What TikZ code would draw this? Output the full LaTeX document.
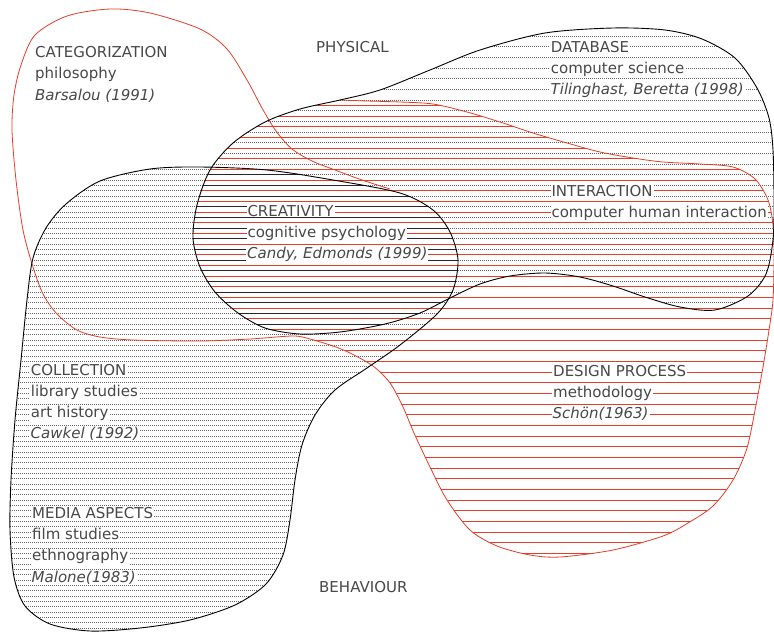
\documentclass[tikz,border=0pt]{standalone}
\usepackage{fontspec}
\setmainfont{DejaVu Sans}
\definecolor{vred}{RGB}{228,62,42}
\definecolor{ink}{RGB}{72,72,72}
\tikzset{
  lbl/.style={anchor=base west, fill=white, inner xsep=1pt, inner ysep=0.6pt,
              text=ink, font=\fontsize{15}{18}\selectfont},
  outline/.style={draw=black, line width=0.9pt},
  redoutline/.style={draw=vred, line width=0.8pt},
  dothatch/.style={black!60, line width=0.5pt, dash pattern=on 0.7pt off 1.3pt},
  redhatch/.style={vred, line width=0.6pt},
  solidhatch/.style={black!85, line width=0.6pt},
}
% blob outlines (pixel units, y pointing down)
\def\dbpath{plot[smooth cycle] coordinates {(193,238) (197,205) (210,170) (233,143) (265,122) (300,109) (340,100) (380,90) (430,70) (480,50) (545,33) (613,28) (665,30) (702,39) (735,58) (757,88) (769,118) (773,150) (774,200) (773,240) (766,274) (748,296) (715,310) (680,307) (645,297) (613,286) (580,277) (545,273) (510,276) (480,284) (450,298) (420,313) (385,324) (340,332) (300,334) (265,328) (238,313) (215,292) (200,267)}}
\def\colpath{plot[smooth cycle] coordinates {(27,300) (33,258) (46,228) (66,204) (100,181) (150,169) (200,167) (267,170) (333,180) (400,193) (433,210) (450,232) (458,260) (453,290) (437,314) (400,345) (367,368) (335,390) (315,415) (302,445) (295,480) (290,520) (283,555) (266,584) (235,605) (190,620) (140,628) (90,631) (50,624) (25,606) (14,577) (10,530) (11,480) (15,420) (21,360)}}
\begin{document}
\begin{tikzpicture}[x=1pt,y=-1pt]
\useasboundingbox[fill=white] (0,0) rectangle (774,632);

% dotted hatching of the database blob
\begin{scope}
  \clip \dbpath;
  \foreach \k in {0,...,59} \draw[dothatch] (0,{4+10.6667*\k}) -- (774,{4+10.6667*\k});
\end{scope}

% dense dotted hatching of the collection blob
\begin{scope}
  \clip \colpath;
  \foreach \k in {0,...,118} \draw[dothatch] (0,{4+5.3333*\k}) -- (774,{4+5.3333*\k});
\end{scope}

% solid hatching where database and collection overlap
\begin{scope}
  \clip \dbpath;
  \clip \colpath;
  \foreach \k in {0,...,59} \draw[solidhatch] (0,{4+10.6667*\k}) -- (774,{4+10.6667*\k});
\end{scope}

% red hatching, part inside the database blob
\begin{scope}
  \clip \dbpath;
  \clip (150,99) -- plot[smooth] coordinates {(340,100) (367,101) (400,102) (433,104) (467,112) (500,122) (533,133) (567,143) (600,152) (633,158) (663,162) (700,164) (733,167) (755,179) (768,200) (773,225) (774,257) (773,300)} -- (800,300) -- (800,700) -- (150,700) -- cycle;
  \foreach \k in {0,...,58} \draw[redhatch] (0,{9.33+10.6667*\k}) -- (774,{9.33+10.6667*\k});
\end{scope}

% red hatching, part outside the database blob
\begin{scope}[even odd rule]
  \path[clip] \dbpath (-20,-20) rectangle (800,700);
  \clip plot[smooth] coordinates {(340,100) (367,101) (400,102) (433,104) (467,112) (500,122) (533,133) (567,143) (600,152) (633,158) (663,162) (700,164) (733,167) (755,179) (768,200) (773,225) (774,257) (773,300) (769,330) (763,367) (756,405) (747,448) (733,480) (713,506) (688,523) (663,536) (613,550) (560,557) (530,555) (497,546) (470,530) (447,500) (430,467) (414,433) (403,407) (390,383) (373,366) (350,353) (333,346) (310,339) (293,336)} -- (285,280) -- (300,130) -- cycle;
  \foreach \k in {0,...,58} \draw[redhatch] (0,{9.33+10.6667*\k}) -- (774,{9.33+10.6667*\k});
\end{scope}

% red outline: interaction / design process and categorization
\draw[redoutline] plot[smooth] coordinates {(340,100) (367,101) (400,102) (433,104) (467,112) (500,122) (533,133) (567,143) (600,152) (633,158) (663,162) (700,164) (733,167) (755,179) (768,200) (773,225) (774,257) (773,300) (769,330) (763,367) (756,405) (747,448) (733,480) (713,506) (688,523) (663,536) (613,550) (560,557) (530,555) (497,546) (470,530) (447,500) (430,467) (414,433) (403,407) (390,383) (373,366) (350,353) (333,346) (310,339) (293,336) (250,339) (200,341) (133,340) (100,337) (77,330) (57,314) (43,294) (33,267) (23,230) (16,180) (12,130) (14,95) (21,65) (35,35) (67,16) (110,9) (150,13) (200,29) (227,49) (247,80) (262,108) (276,131) (292,149) (312,161) (335,170) (362,180) (390,189)};

% black outlines
\draw[outline] \dbpath;
\draw[outline] \colpath;

% labels
\node[lbl] (catA) at (34,57.3) {CATEGORIZATION};
\node[lbl] (catB) at (34,78.7) {philosophy};
\node[lbl] (catC) at (34,100) {\itshape Barsalou (1991)};

\node[lbl] (phys) at (315,52.7) {PHYSICAL};
\node[lbl] (behav) at (318,592.7) {BEHAVIOUR};

\node[lbl] (dbA) at (549.7,52.5) {DATABASE};
\node[lbl] (dbB) at (549.7,73.6) {computer science};
\node[lbl] (dbC) at (549.5,94.6) {\itshape Tilinghast, Beretta (1998)};

\node[lbl] (intA) at (550.3,196) {INTERACTION};
\node[lbl] (intB) at (550.3,217) {computer human interaction};

\node[lbl] (creA) at (246.3,216) {CREATIVITY};
\node[lbl] (creB) at (246.3,237.3) {cognitive psychology};
\node[lbl] (creC) at (246,258.5) {\itshape Candy, Edmonds (1999)};

\node[lbl] (desA) at (552,376) {DESIGN PROCESS};
\node[lbl] (desB) at (552,397) {methodology};
\node[lbl] (desC) at (551.5,418) {\itshape Schön(1963)};

\node[lbl] (colA) at (29.7,375) {COLLECTION};
\node[lbl] (colB) at (29.7,396.3) {library studies};
\node[lbl] (colC) at (29.7,417.5) {art history};
\node[lbl] (colD) at (29.5,438.6) {\itshape Cawkel (1992)};

\node[lbl] (medA) at (31,518.3) {MEDIA ASPECTS};
\node[lbl] (medB) at (31,539.6) {film studies};
\node[lbl] (medC) at (31,560.8) {ethnography};
\node[lbl] (medD) at (30.5,582) {\itshape Malone(1983)};
\end{tikzpicture}
\end{document}
